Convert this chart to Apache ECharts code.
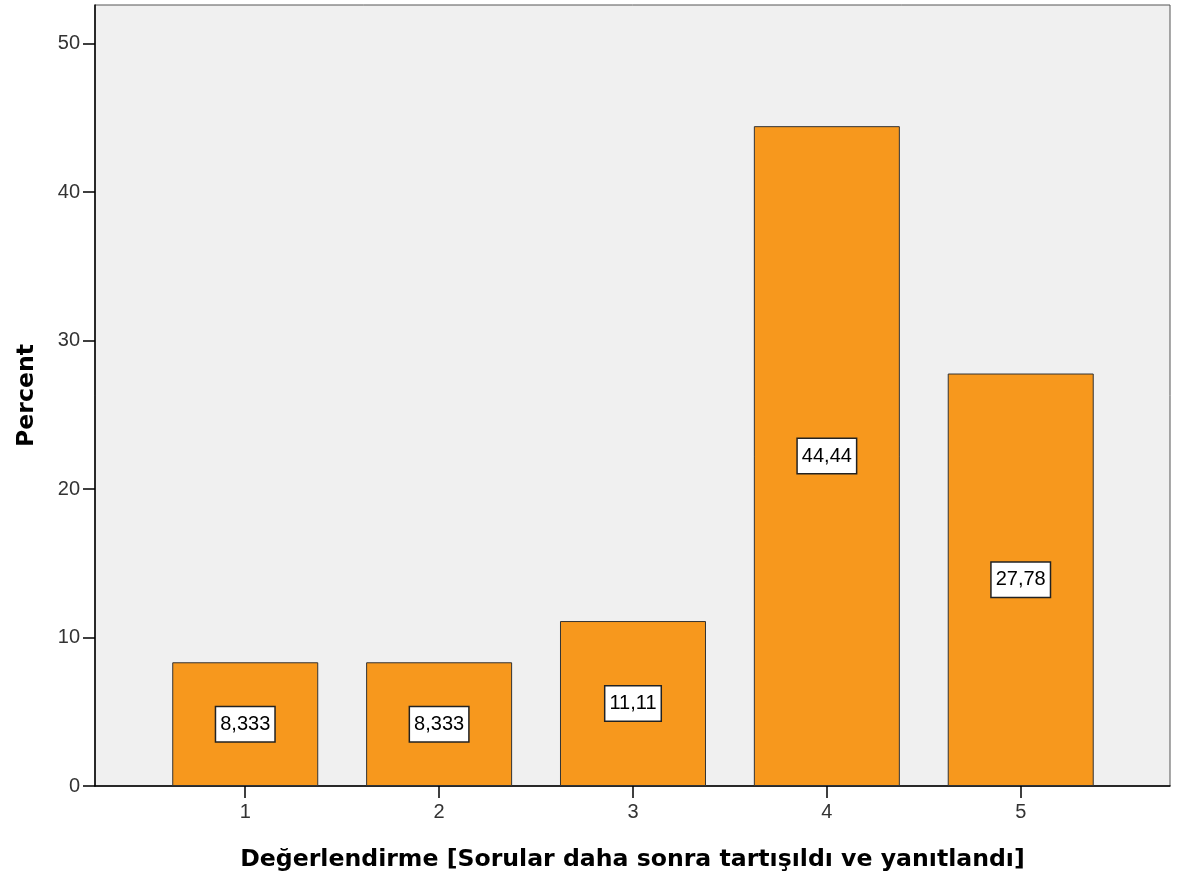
<!DOCTYPE html>
<html>
<head>
<meta charset="utf-8">
<script src="https://cdn.jsdelivr.net/npm/echarts@6/dist/echarts.min.js"></script>
<style>
  html, body { margin: 0; padding: 0; background: #fff; }
  #chart { width: 1180px; height: 884px; }
</style>
</head>
<body>
<div id="chart"></div>
<script>
const categories = [1, 2, 3, 4, 5]
const percents = [8.333, 8.333, 11.11, 44.44, 27.78]
const yTicks = [0, 10, 20, 30, 40, 50]

const chart = echarts.init(document.getElementById('chart'))

const tickFont = { fontFamily: 'Liberation Sans, Arial, sans-serif', fontSize: 20, color: '#333' }
const titleFont = { fontFamily: 'DejaVu Sans, Verdana, sans-serif', fontSize: 23.6, fontWeight: 'bold', color: '#000' }

const option = {
  animation: false,
  grid: {
    left: 95, right: 10, top: 5, bottom: 98,
    outerBoundsMode: 'none',
    containLabel: false,
    show: true,
    backgroundColor: '#f0f0f0',
    borderColor: '#555',
    borderWidth: 1
  },
  xAxis: {
    type: 'value',
    min: 0.225,
    max: 5.77,
    name: 'Değerlendirme [Sorular daha sonra tartışıldı ve yanıtlandı]',
    nameLocation: 'middle',
    nameGap: 62,
    nameTextStyle: titleFont,
    axisLine: { show: true, lineStyle: { color: '#000', width: 1.5 } },
    axisTick: { show: true, inside: false, length: 12, customValues: categories, lineStyle: { color: '#000', width: 1.5 } },
    axisLabel: { customValues: categories, margin: 16, ...tickFont },
    splitLine: { show: false }
  },
  yAxis: {
    type: 'value',
    min: 0,
    max: 52.6,
    name: 'Percent',
    nameLocation: 'middle',
    nameGap: 56,
    nameTextStyle: titleFont,
    axisLine: { show: true, lineStyle: { color: '#000', width: 1.5 } },
    axisTick: { show: true, inside: false, length: 12, customValues: yTicks, lineStyle: { color: '#000', width: 1.5 } },
    axisLabel: { customValues: yTicks, margin: 15, ...tickFont },
    splitLine: { show: false }
  },
  series: [
    {
      type: 'bar',
      data: categories.map((c, i) => [c, percents[i]]),
      barWidth: 146,
      itemStyle: { color: '#f7981d', borderColor: '#333', borderWidth: 1 },
      label: {
        show: true,
        position: 'inside',
        formatter: p => String(p.value[1]).replace('.', ','),
        fontFamily: 'Liberation Sans, Arial, sans-serif',
        fontSize: 20,
        color: '#000',
        backgroundColor: '#fff',
        borderColor: '#222',
        borderWidth: 1.5,
        padding: [7, 4]
      }
    }
  ]
}

chart.setOption(option)
</script>
</body>
</html>
